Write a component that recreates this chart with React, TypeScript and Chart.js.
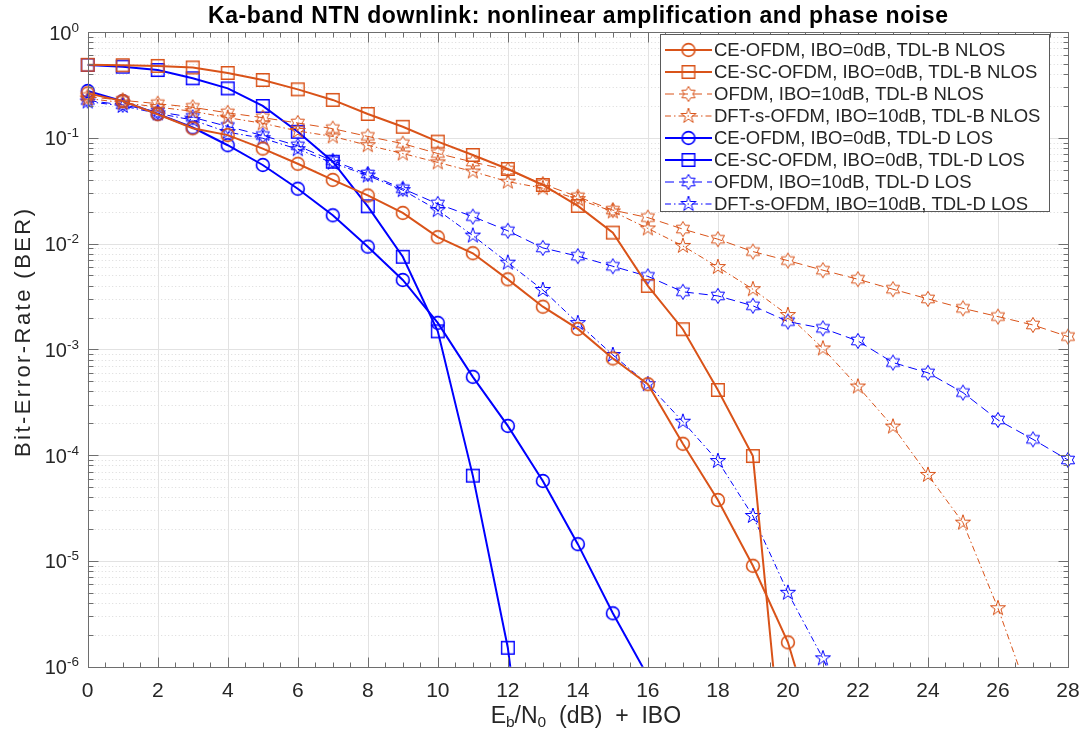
import React, { useEffect, useRef } from "react";
import { Chart, registerables } from "chart.js";

Chart.register(...registerables);

// ---------------- data ----------------
const ebn0 = [0, 1, 2, 3, 4, 5, 6, 7, 8, 9, 10, 11, 12, 13, 14, 15, 16, 17, 18, 19, 20, 21, 22, 23, 24, 25, 26, 27, 28];
const xTickValues = [0, 2, 4, 6, 8, 10, 12, 14, 16, 18, 20, 22, 24, 26, 28];
const yTickExponents = [0, -1, -2, -3, -4, -5, -6];

const ceOfdmTdlB = [0.263, 0.222, 0.167, 0.123, 0.106, 0.079, 0.0568, 0.04, 0.0285, 0.0195, 0.0115, 0.0081, 0.00459, 0.00253, 0.00156, 0.00082, 0.000468, 0.000128, 0.0000377, 0.000009, 0.0000017, 1.35e-7];
const ceScOfdmTdlB = [0.49, 0.485, 0.478, 0.462, 0.41, 0.352, 0.287, 0.228, 0.168, 0.127, 0.092, 0.0688, 0.0507, 0.0358, 0.0227, 0.0127, 0.00398, 0.00155, 0.000413, 0.000098, 3.6e-8];
const ofdmTdlB = [0.245, 0.226, 0.21, 0.194, 0.172, 0.155, 0.138, 0.122, 0.103, 0.088, 0.071, 0.059, 0.0495, 0.0365, 0.0277, 0.0207, 0.0176, 0.0137, 0.011, 0.0084, 0.0069, 0.0056, 0.0046, 0.0037, 0.003, 0.00244, 0.00204, 0.0017, 0.00132];
const dftsOfdmTdlB = [0.235, 0.215, 0.195, 0.178, 0.155, 0.137, 0.116, 0.103, 0.085, 0.071, 0.0585, 0.048, 0.0385, 0.0334, 0.0263, 0.0201, 0.0139, 0.0095, 0.006, 0.0037, 0.00211, 0.00102, 0.000445, 0.000186, 0.000065, 0.000023, 0.00000357, 4.2e-7];
const ceOfdmTdlD = [0.277, 0.222, 0.168, 0.125, 0.085, 0.0553, 0.033, 0.0185, 0.00935, 0.00453, 0.00178, 0.00055, 0.000189, 0.000057, 0.0000144, 0.0000032, 8.1e-7];
const ceScOfdmTdlD = [0.488, 0.47, 0.437, 0.365, 0.293, 0.2, 0.114, 0.0594, 0.0225, 0.0075, 0.00148, 0.000064, 0.00000151, 4e-9];
const ofdmTdlD = [0.225, 0.205, 0.176, 0.156, 0.128, 0.105, 0.084, 0.0605, 0.0455, 0.033, 0.0237, 0.018, 0.0132, 0.0091, 0.0076, 0.0061, 0.0049, 0.0035, 0.0032, 0.00258, 0.00183, 0.00158, 0.0012, 0.00075, 0.0006, 0.00039, 0.000215, 0.000141, 0.00009];
const dftsOfdmTdlD = [0.22, 0.2, 0.17, 0.147, 0.113, 0.099, 0.078, 0.058, 0.044, 0.032, 0.0207, 0.0119, 0.0066, 0.00364, 0.00177, 0.000885, 0.000468, 0.000207, 0.000088, 0.0000266, 0.000005, 0.0000012, 2e-7];

const seriesLabels = [
  "CE-OFDM, IBO=0dB, TDL-B NLOS",
  "CE-SC-OFDM, IBO=0dB, TDL-B NLOS",
  "OFDM, IBO=10dB, TDL-B NLOS",
  "DFT-s-OFDM, IBO=10dB, TDL-B NLOS",
  "CE-OFDM, IBO=0dB, TDL-D LOS",
  "CE-SC-OFDM, IBO=0dB, TDL-D LOS",
  "OFDM, IBO=10dB, TDL-D LOS",
  "DFT-s-OFDM, IBO=10dB, TDL-D LOS",
];

const titleText = "Ka-band NTN downlink: nonlinear amplification and phase noise";
const yLabelText = "Bit-Error-Rate (BER)";

// ---------------- styles ----------------
const ORANGE = "#D95319";
const BLUE = "#0000FF";
const FONT = '"Liberation Sans", Arial, Helvetica, sans-serif';
const DASH = [9, 5];
const DASHDOT = [6, 3, 1.5, 3];

type MarkerKind = "circle" | "square" | "hexa" | "penta";

function makeMarker(kind: MarkerKind, color: string, lw: number): HTMLCanvasElement {
  const S = 22;
  const c = document.createElement("canvas");
  c.width = S;
  c.height = S;
  const g = c.getContext("2d")!;
  g.strokeStyle = color;
  g.lineWidth = lw;
  g.lineJoin = "miter";
  const cx = S / 2;
  const cy = S / 2;
  g.beginPath();
  if (kind === "circle") {
    g.arc(cx, cy, 6.4, 0, Math.PI * 2);
  } else if (kind === "square") {
    g.rect(cx - 6.3, cy - 6.3, 12.6, 12.6);
  } else {
    const n = kind === "penta" ? 5 : 6;
    const R = kind === "penta" ? 8 : 7.6;
    const r = kind === "penta" ? R * 0.382 : R * 0.577;
    for (let i = 0; i < 2 * n; i++) {
      const a = -Math.PI / 2 + (i * Math.PI) / n;
      const rr = i % 2 === 0 ? R : r;
      const px = cx + rr * Math.cos(a);
      const py = cy + rr * Math.sin(a);
      if (i === 0) g.moveTo(px, py);
      else g.lineTo(px, py);
    }
    g.closePath();
  }
  g.stroke();
  return c;
}

function setSpacing(ctx: CanvasRenderingContext2D, text: string, target: number) {
  (ctx as any).letterSpacing = "0px";
  const w = ctx.measureText(text).width;
  const n = Array.from(text).length;
  const ls = n > 1 ? (target - w) / (n - 1) : 0;
  (ctx as any).letterSpacing = ls + "px";
  return w + ls * (n - 1);
}

export default function App() {
  const ref = useRef<HTMLCanvasElement>(null);

  useEffect(() => {
    const canvas = ref.current!;
    const styles = [
      { data: ceOfdmTdlB, color: ORANGE, kind: "circle" as MarkerKind, width: 2, dash: [] as number[], mlw: 1.6 },
      { data: ceScOfdmTdlB, color: ORANGE, kind: "square" as MarkerKind, width: 2, dash: [] as number[], mlw: 1.4 },
      { data: ofdmTdlB, color: ORANGE, kind: "hexa" as MarkerKind, width: 1, dash: DASH, mlw: 1 },
      { data: dftsOfdmTdlB, color: ORANGE, kind: "penta" as MarkerKind, width: 1, dash: DASHDOT, mlw: 1 },
      { data: ceOfdmTdlD, color: BLUE, kind: "circle" as MarkerKind, width: 2, dash: [] as number[], mlw: 1.6 },
      { data: ceScOfdmTdlD, color: BLUE, kind: "square" as MarkerKind, width: 2, dash: [] as number[], mlw: 1.4 },
      { data: ofdmTdlD, color: BLUE, kind: "hexa" as MarkerKind, width: 1, dash: DASH, mlw: 1 },
      { data: dftsOfdmTdlD, color: BLUE, kind: "penta" as MarkerKind, width: 1, dash: DASHDOT, mlw: 1 },
    ];
    const markers = styles.map((s) => makeMarker(s.kind, s.color, s.mlw));

    const datasets = styles.map((s, i) => ({
      label: seriesLabels[i],
      data: s.data.map((v, k) => ({ x: ebn0[k], y: v })),
      borderColor: s.color,
      backgroundColor: "rgba(0,0,0,0)",
      borderWidth: s.width,
      borderDash: s.dash,
      pointStyle: markers[i] as any,
      pointRadius: 7,
      tension: 0,
      fill: false,
      clip: { left: 12, right: 12, top: 12, bottom: 0 } as any,
    }));

    const axesPlugin = {
      id: "matlabAxes",
      beforeDatasetsDraw(chart: any) {
        const { ctx, chartArea: a, scales } = chart;
        const x = scales.x;
        const y = scales.y;
        ctx.save();
        ctx.lineWidth = 1;
        // minor horizontal grid (dotted)
        ctx.strokeStyle = "#dadada";
        ctx.setLineDash([1, 2.5]);
        for (let e = -6; e < 0; e++) {
          for (let k = 2; k <= 9; k++) {
            const py = Math.round(y.getPixelForValue(k * Math.pow(10, e))) + 0.5;
            ctx.beginPath();
            ctx.moveTo(a.left, py);
            ctx.lineTo(a.right, py);
            ctx.stroke();
          }
        }
        ctx.setLineDash([]);
        ctx.strokeStyle = "#e2e2e2";
        for (const e of yTickExponents) {
          if (e === 0 || e === -6) continue;
          const py = Math.round(y.getPixelForValue(Math.pow(10, e))) + 0.5;
          ctx.beginPath();
          ctx.moveTo(a.left, py);
          ctx.lineTo(a.right, py);
          ctx.stroke();
        }
        for (const t of xTickValues) {
          if (t === 0 || t === 28) continue;
          const px = Math.round(x.getPixelForValue(t)) + 0.5;
          ctx.beginPath();
          ctx.moveTo(px, a.top);
          ctx.lineTo(px, a.bottom);
          ctx.stroke();
        }
        ctx.restore();
      },
      afterDatasetsDraw(chart: any) {
        const { ctx, chartArea: a, scales } = chart;
        const x = scales.x;
        const y = scales.y;
        ctx.save();
        // box
        ctx.strokeStyle = "#6e6e6e";
        ctx.lineWidth = 1;
        const L = Math.round(a.left) + 0.5;
        const R = Math.round(a.right) + 0.5;
        const T = Math.round(a.top) + 0.5;
        const B = Math.round(a.bottom) + 0.5;
        ctx.strokeRect(L, T, R - L, B - T);
        // x ticks
        ctx.beginPath();
        for (let v = 0; v <= 28.001; v += 0.5) {
          const px = Math.round(x.getPixelForValue(v)) + 0.5;
          const len = Math.abs(v % 2) < 1e-6 ? 10 : 5;
          ctx.moveTo(px, B);
          ctx.lineTo(px, B - len);
          ctx.moveTo(px, T);
          ctx.lineTo(px, T + len);
        }
        // y ticks
        for (let e = -6; e <= 0; e++) {
          for (let k = 1; k <= 9; k++) {
            const val = k * Math.pow(10, e);
            if (val > 1.0001) continue;
            const py = Math.round(y.getPixelForValue(val)) + 0.5;
            const len = k === 1 ? 10 : 5;
            ctx.moveTo(L, py);
            ctx.lineTo(L + len, py);
            ctx.moveTo(R, py);
            ctx.lineTo(R - len, py);
          }
        }
        ctx.stroke();

        // legend
        const lx0 = 660.5;
        const ly0 = 34.5;
        const lx1 = 1049.5;
        const ly1 = 211.5;
        ctx.fillStyle = "#ffffff";
        ctx.fillRect(lx0, ly0, lx1 - lx0, ly1 - ly0);
        ctx.strokeStyle = "#5a5a5a";
        ctx.lineWidth = 1;
        ctx.strokeRect(lx0, ly0, lx1 - lx0, ly1 - ly0);
        ctx.font = `18.5px ${FONT}`;
        ctx.textBaseline = "middle";
        ctx.textAlign = "left";
        styles.forEach((s, i) => {
          const cy = 50 + i * 22;
          ctx.save();
          ctx.strokeStyle = s.color;
          ctx.lineWidth = s.width;
          ctx.setLineDash(s.dash);
          ctx.beginPath();
          ctx.moveTo(665, cy);
          ctx.lineTo(712, cy);
          ctx.stroke();
          ctx.restore();
          const m = markers[i];
          ctx.drawImage(m, 688.5 - m.width / 2, cy - m.height / 2);
          ctx.fillStyle = "#262626";
          ctx.fillText(seriesLabels[i], 714, cy + 1);
        });
        ctx.restore();
      },
      afterDraw(chart: any) {
        const { ctx, chartArea: a, scales } = chart;
        const x = scales.x;
        const y = scales.y;
        ctx.save();
        ctx.fillStyle = "#262626";
        // x tick labels
        ctx.font = `21px ${FONT}`;
        ctx.textAlign = "center";
        ctx.textBaseline = "alphabetic";
        for (const t of xTickValues) {
          ctx.fillText(String(t), x.getPixelForValue(t), 696.5);
        }
        // y tick labels
        ctx.textAlign = "left";
        for (const e of yTickExponents) {
          const py = y.getPixelForValue(Math.pow(10, e));
          ctx.font = `20px ${FONT}`;
          const w10 = ctx.measureText("10").width;
          ctx.font = `13.5px ${FONT}`;
          const sup = e === 0 ? "0" : "-" + String(-e);
          const ws = ctx.measureText(sup).width;
          const x0 = 79 - w10 - ws;
          ctx.font = `20px ${FONT}`;
          ctx.fillText("10", x0, py + 7.5);
          ctx.font = `13.5px ${FONT}`;
          ctx.fillText(sup, x0 + w10, py - 0.5);
        }
        // title
        ctx.font = `bold 23px ${FONT}`;
        ctx.textAlign = "left";
        const tw = setSpacing(ctx, titleText, 740);
        ctx.fillStyle = "#000000";
        ctx.fillText(titleText, 578 - tw / 2, 23);
        (ctx as any).letterSpacing = "0px";
        // y label
        ctx.fillStyle = "#262626";
        ctx.save();
        ctx.translate(23.5, 333);
        ctx.rotate(-Math.PI / 2);
        ctx.font = `22px ${FONT}`;
        ctx.textBaseline = "middle";
        const yw = setSpacing(ctx, yLabelText, 248);
        ctx.fillText(yLabelText, -yw / 2, 0);
        (ctx as any).letterSpacing = "0px";
        ctx.restore();
        // x label with subscripts
        const big = `23px ${FONT}`;
        const small = `15.5px ${FONT}`;
        const parts: [string, boolean][] = [
          ["E", false],
          ["b", true],
          ["/N", false],
          ["0", true],
          ["  (dB)  +  IBO", false],
        ];
        let total = 0;
        for (const [s, sub] of parts) {
          ctx.font = sub ? small : big;
          total += ctx.measureText(s).width;
        }
        let cx = (a.left + a.right) / 2 + 8 - total / 2;
        const base = 723;
        for (const [s, sub] of parts) {
          ctx.font = sub ? small : big;
          ctx.fillText(s, cx, sub ? base + 4 : base);
          cx += ctx.measureText(s).width;
        }
        ctx.restore();
      },
    };

    const chart = new Chart(canvas, {
      type: "line",
      data: { datasets: datasets as any },
      options: {
        responsive: false,
        animation: false,
        events: [],
        layout: { padding: { top: 32, right: 16, left: 0, bottom: 0 } },
        plugins: {
          legend: { display: false },
          title: { display: false },
          tooltip: { enabled: false },
        },
        scales: {
          x: {
            type: "linear",
            min: 0,
            max: 28,
            grid: { display: false },
            border: { display: false },
            ticks: { display: false },
            afterFit: (s: any) => {
              s.height = 62.3;
            },
          },
          y: {
            type: "logarithmic",
            min: 1e-6,
            max: 1,
            grid: { display: false },
            border: { display: false },
            ticks: { display: false },
            afterFit: (s: any) => {
              s.width = 87.7;
            },
          },
        },
      },
      plugins: [axesPlugin],
    });
    return () => chart.destroy();
  }, []);

  return (
    <div style={{ position: "fixed", left: 0, top: 0, width: 1084, height: 729, background: "#ffffff" }}>
      <canvas ref={ref} width={1084} height={729} style={{ display: "block" }} />
    </div>
  );
}
